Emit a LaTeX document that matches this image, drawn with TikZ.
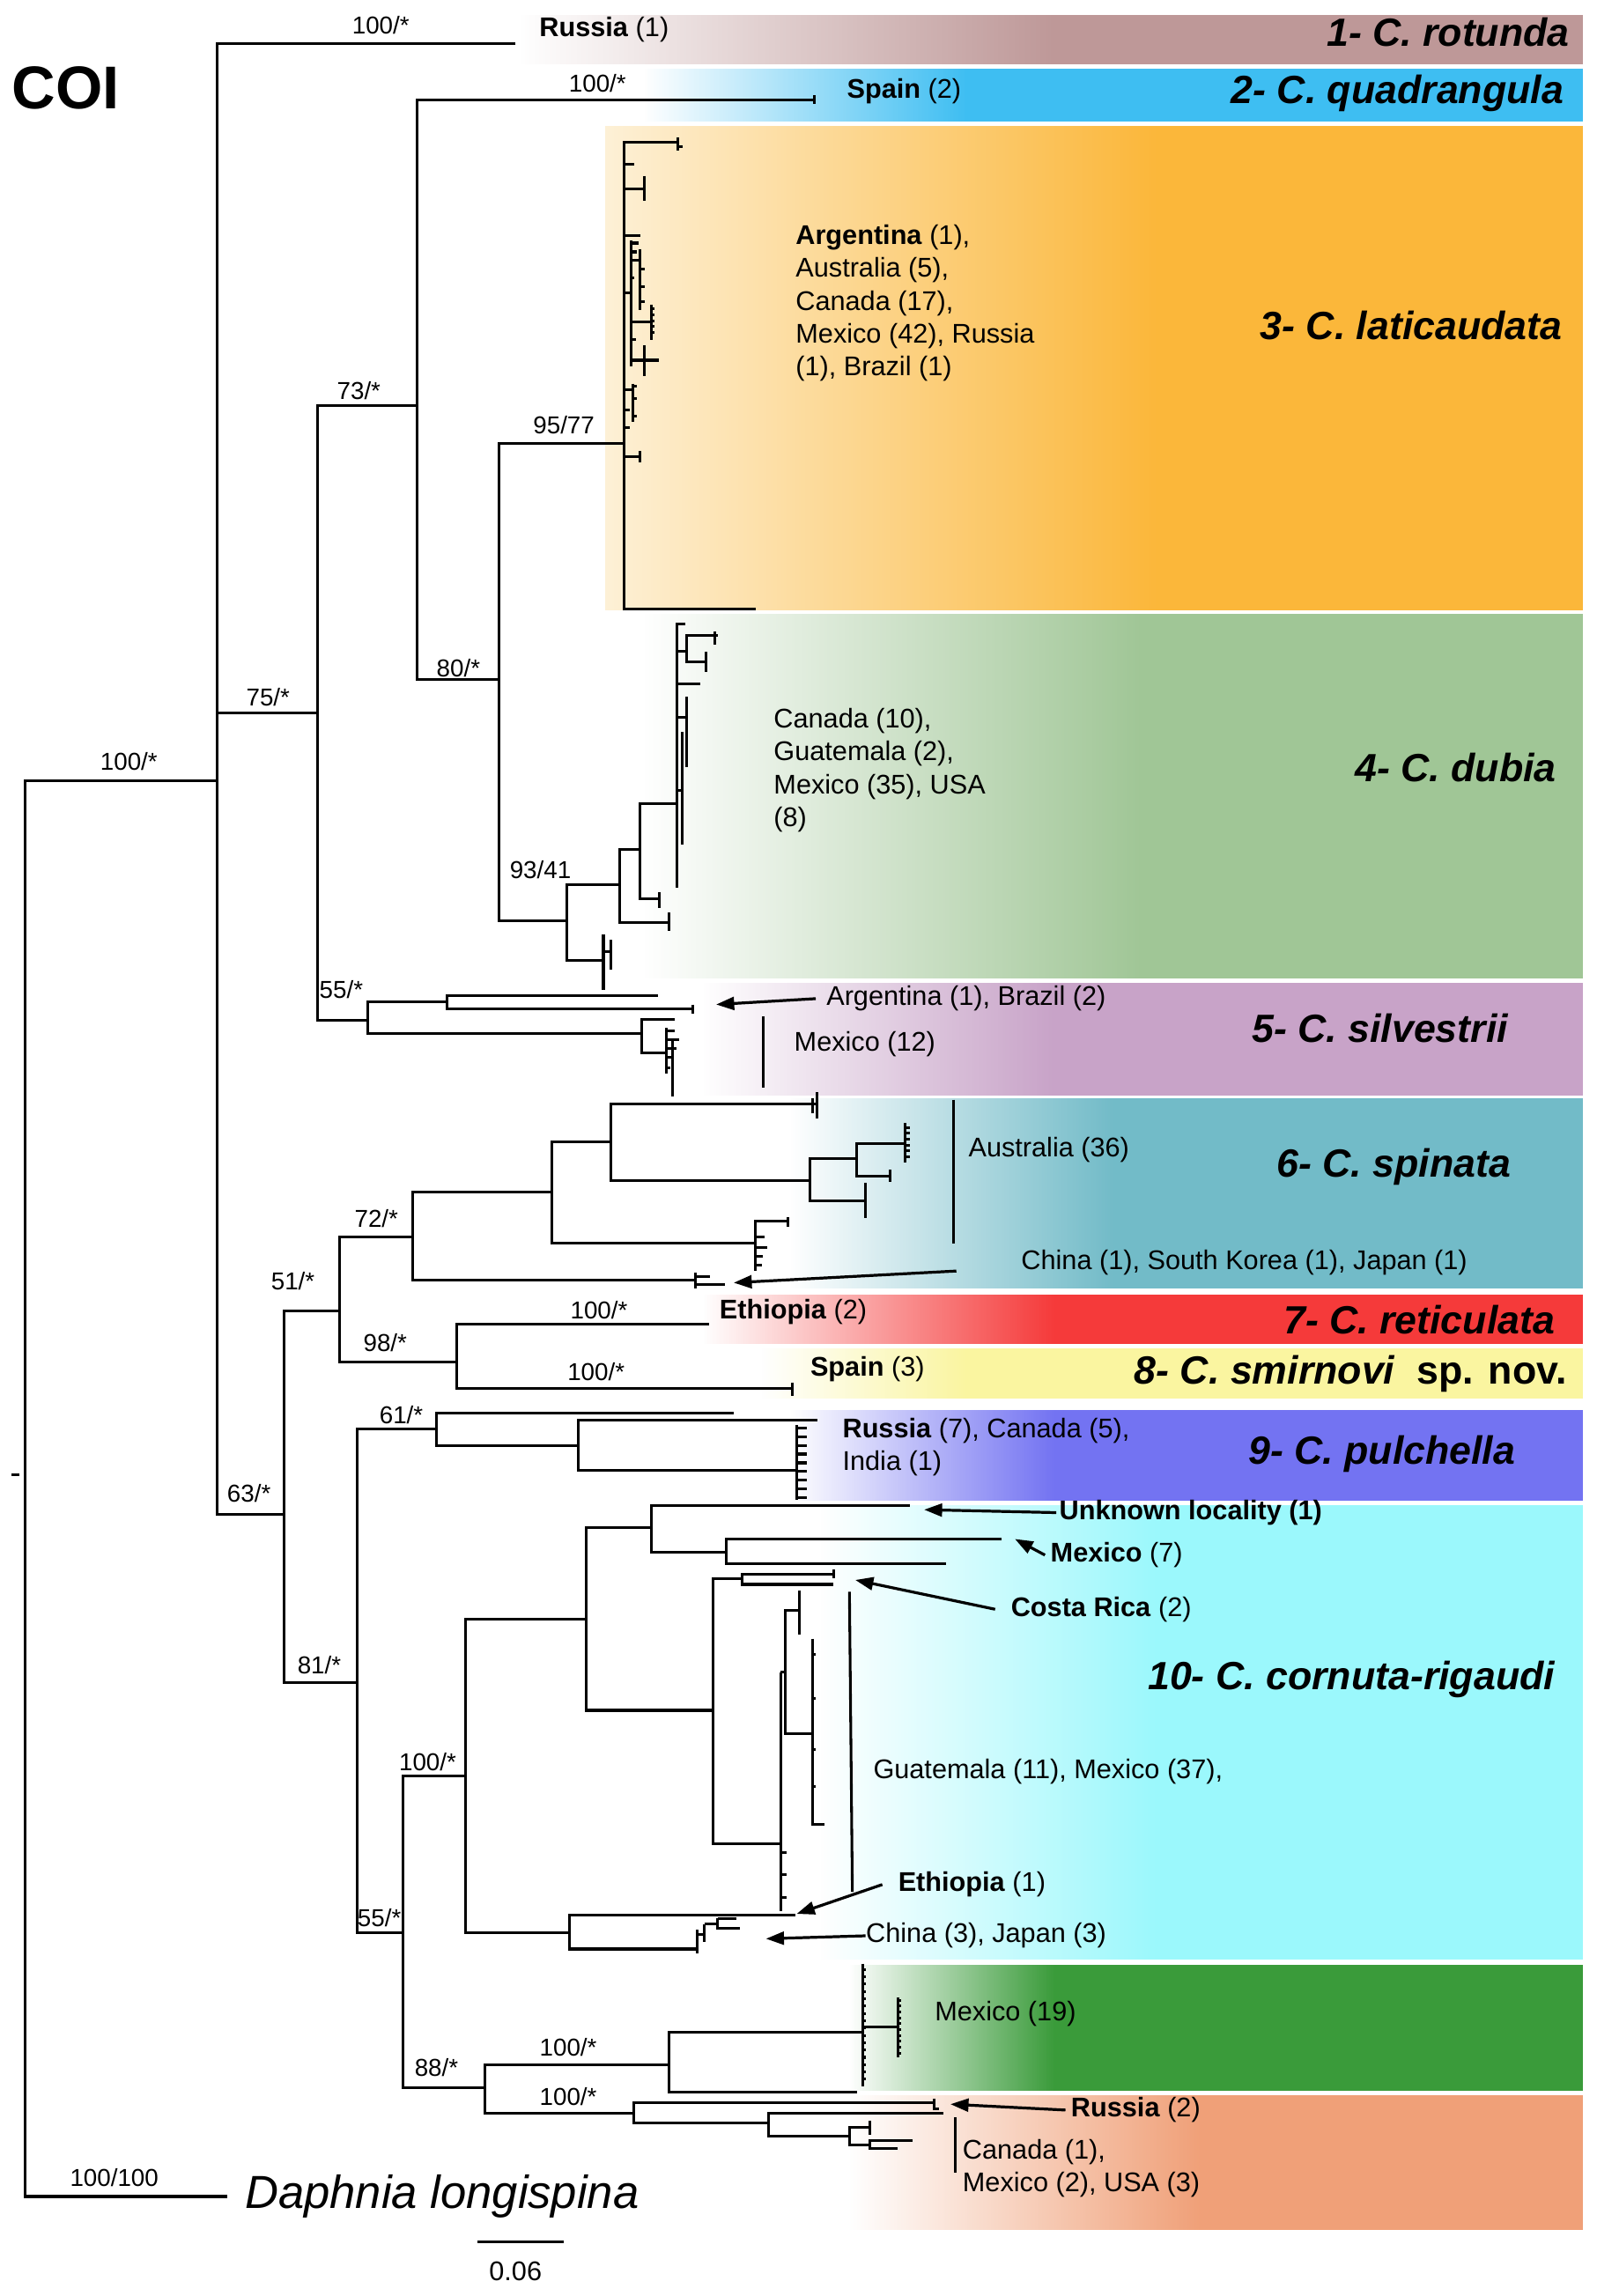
\documentclass[tikz,border=0pt]{standalone}
\usepackage{fontspec}
\setmainfont{Liberation Sans}
\usetikzlibrary{arrows.meta,positioning,fadings}
\definecolor{rotC}{RGB}{190,152,152}
\definecolor{quaC}{RGB}{62,190,242}
\definecolor{latC}{RGB}{251,183,58}
\definecolor{dubC}{RGB}{160,198,150}
\definecolor{silC}{RGB}{200,163,200}
\definecolor{spiC}{RGB}{114,187,200}
\definecolor{retC}{RGB}{245,58,58}
\definecolor{smiC}{RGB}{250,245,160}
\definecolor{pulC}{RGB}{115,115,242}
\definecolor{corC}{RGB}{155,248,252}
\definecolor{greC}{RGB}{58,155,58}
\definecolor{oraC}{RGB}{240,160,120}
\tikzfading[name=fadeband,left color=transparent!100,middle color=transparent!25,right color=transparent!0]
\begin{document}
\begin{tikzpicture}[x=0.02cm,y=-0.02cm,
 tree/.style={line width=1.05pt},
 arr/.style={-{Stealth[length=7pt,width=5pt,inset=0pt]},line width=1.1pt},
 bs/.style={font=\fontsize{9.5}{11}\selectfont,inner sep=0pt},
 loc/.style={font=\fontsize{10.5}{12.75}\selectfont,inner sep=0pt,anchor=west,align=left},
 spname/.style={font=\fontsize{15.3}{17}\selectfont\bfseries\itshape,inner sep=0pt,anchor=east}]
\useasboundingbox (0,0) rectangle (1090,1568);
\foreach \ya/\yb/\xa/\xb/\lc/\col in {10/44/355/720/white/rotC,47/83/440/660/white/quaC,
 86/417/413/790/latC!20/latC,419/668/440/780/white/dubC,671/748/480/720/white/silC,
 750/880/540/760/white/spiC,884/918/480/720/white/retC,921/955/520/660/white/smiC,
 963/1025/540/720/white/pulC,1028/1338/560/790/white/corC,1342/1428/580/720/white/greC,
 1431/1523/580/820/white/oraC}
 {\fill[\lc] (\xa,\ya) rectangle (\xb,\yb);
  \fill[\col,path fading=fadeband] (\xa,\ya) rectangle (\xb,\yb);
  \fill[\col] (\xb-0.5,\ya) rectangle (1081,\yb);}
\draw[tree] (155,1500) -| (17,533) -- (148,533);
\draw[tree] (8,1007) -- (13,1007);
\draw[tree] (352,30) -| (148,1034) -- (194,1034);
\draw[tree] (148,487) -- (217,487);
\draw[tree] (285,277) -| (217,697) -- (251,697);
\draw[tree] (556,68) -| (285,464) -- (341,464);
\draw[tree] (556,65) -- (556,71);
\draw[tree] (426,303) -| (341,629) -- (387,629);
\draw[tree] (463,97) -| (426,416) -- (516,416);
\draw[tree] (463,94) -- (463,103) (463,100) -- (466,100);
\foreach \y/\xe in {112/433,161/437,200/431,266/432,280/430,292/430,312/437}
 {\draw[tree] (426,\y) -- (\xe,\y);}
\draw[tree] (426,129) -- (440,129) (440,120) -- (440,137);
\draw[tree] (431,164) -- (431,250);
\foreach \y/\xe in {166/436,172/435,190/433,232/434} {\draw[tree] (431,\y) -- (\xe,\y);}
\draw[tree] (431,178) -- (437,178) (437,170) -- (437,212);
\foreach \y in {184,196,206} {\draw[tree] (437,\y) -- (440,\y);}
\draw[tree] (431,220) -- (445,220) (445,208) -- (445,232);
\foreach \y in {211,215,219,223,227} {\draw[tree] (445,\y) -- (447,\y);}
\draw[tree] (431,246) -- (450,246) (440,236) -- (440,257);
\draw[tree] (432,262) -- (432,288);
\foreach \y in {264,272,284} {\draw[tree] (432,\y) -- (435,\y);}
\draw[tree] (437,308) -- (437,316);
\draw[tree] (423,604) -| (387,656) -- (412,656);
\draw[tree] (412,638) -- (412,676) (412,650) -- (417,650) (417,642) -- (417,662);
\draw[tree] (437,580) -| (423,630) -- (457,630);
\draw[tree] (457,623) -- (457,636);
\draw[tree] (462,549) -| (437,614) -- (450,614);
\draw[tree] (450,609) -- (450,620);
\draw[tree] (468,426) -| (462,606);
\draw[tree] (490,434) -| (469,452) -- (482,452);
\draw[tree] (462,445) -- (469,445);
\draw[tree] (488,431) -- (488,440) (482,445) -- (482,459);
\draw[tree] (462,467) -- (478,467);
\draw[tree] (462,490) -- (469,490) (469,476) -- (469,524);
\draw[tree] (462,540) -- (466,540) (466,500) -- (466,577);
\draw[tree] (305,684) -| (251,706) -- (438,706);
\draw[tree] (449,680) -| (305,689) -- (473,689);
\draw[tree] (473,686) -- (473,692);
\draw[tree] (461,696) -| (438,719) -- (455,719);
\draw[tree] (455,702) -- (455,733) (459,709) -- (459,749);
\foreach \y/\xe in {704/461,710/464,716/462,722/459,729/458} {\draw[tree] (455,\y) -- (\xe,\y);}
\draw[tree] (521,694) -- (521,743);
\draw[tree] (282,845) -| (232,930) -- (312,930);
\draw[tree] (377,814) -| (282,874) -- (475,874);
\draw[tree] (475,869) -- (475,880) (475,872) -- (485,872) (475,877) -- (495,877);
\draw[tree] (417,780) -| (377,849) -- (516,849);
\draw[tree] (538,834) -| (516,868);
\draw[tree] (538,831) -- (538,838);
\foreach \y/\xe in {845/522,852/524,858/521,864/520} {\draw[tree] (516,\y) -- (\xe,\y);}
\draw[tree] (558,754) -| (417,806) -- (553,806);
\draw[tree] (558,746) -- (558,764) (555,750) -- (555,760);
\draw[tree] (585,791) -| (553,820) -- (591,820);
\draw[tree] (618,781) -| (585,803) -- (608,803);
\draw[tree] (618,767) -- (618,794) (608,799) -- (608,807) (591,808) -- (591,832);
\foreach \y in {770,774,778,782,786,790} {\draw[tree] (618,\y) -- (621,\y);}
\draw[tree] (651,751) -- (651,849);
\draw[tree] (484,904) -| (312,948) -- (541,948);
\draw[tree] (541,944) -- (541,953);
\draw[tree] (232,895) -| (194,1149) -- (244,1149);
\draw[tree] (298,976) -| (244,1320) -- (275,1320);
\draw[tree] (501,965) -| (298,987) -- (395,987);
\draw[tree] (558,970) -| (395,1004) -- (544,1004);
\draw[tree] (544,973) -- (544,1024);
\foreach \y in {975,981,987,993,999,1005,1011,1017,1023} {\draw[tree] (544,\y) -- (551,\y);}
\draw[tree] (318,1213) -| (275,1426) -- (331,1426);
\draw[tree] (400,1106) -| (318,1320) -- (389,1320);
\draw[tree] (543,1308) -| (389,1331) -- (476,1331);
\draw[tree] (476,1318) -- (476,1334) (476,1321) -- (481,1321) (481,1314) -- (481,1326)
 (481,1314) -- (490,1314) (490,1310) -- (490,1318) (490,1310) -- (503,1310) (490,1317) -- (505,1317);
\draw[tree] (445,1043) -| (400,1168) -- (487,1168);
\draw[tree] (621,1028) -| (445,1060) -- (496,1060);
\draw[tree] (684,1051) -| (496,1068) -- (646,1068);
\draw[tree] (507,1078) -| (487,1259) -- (533,1259);
\draw[tree] (569,1075) -| (507,1082) -- (569,1082);
\draw[tree] (569,1072) -- (569,1078);
\draw[tree] (533,1142) -- (533,1305) (533,1142) -- (536,1142);
\draw[tree] (546,1100) -| (536,1184) -- (555,1184);
\draw[tree] (546,1086) -- (546,1116);
\draw[tree] (555,1119) -- (555,1246) -- (563,1246);
\foreach \y in {1265,1280,1296} {\draw[tree] (533,\y) -- (537,\y);}
\foreach \y in {1130,1160,1195,1220} {\draw[tree] (555,\y) -- (557,\y);}
\draw[tree] (580,1087) -- (582,1292);
\draw[tree] (457,1410) -| (331,1443) -- (433,1443);
\draw[tree] (589,1388) -| (457,1429) -- (585,1429);
\draw[tree] (589,1341) -- (589,1425);
\draw[tree] (589,1384) -- (613,1384) (613,1364) -- (613,1405);
\foreach \y in {1345,1350,...,1420} {\draw[tree] (589,\y) -- (591,\y);}
\foreach \y in {1366,1370,...,1404} {\draw[tree] (613,\y) -- (615,\y);}
\draw[tree] (638,1436) -| (433,1450) -- (525,1450);
\draw[tree] (638,1433) -- (638,1440) -- (641,1440);
\draw[tree] (644,1443) -| (525,1459) -- (580,1459);
\draw[tree] (594,1453) -| (580,1465) -- (594,1465);
\draw[tree] (594,1448) -- (594,1458);
\draw[tree] (623,1462) -| (594,1467) -- (613,1467);
\draw[tree] (652,1446) -- (652,1484);
\draw[tree] (326,1531) -- (385,1531);
\foreach \x/\y/\t [count=\i] in {88/520/{100/*},260/17/{100/*},408/57/{100/*},245/267/{73/*},
 183/476/{75/*},313/456/{80/*},385/290/{95/77},369/594/{93/41},233/676/{55/*},257/832/{72/*},
 200/875/{51/*},263/917/{98/*},409/895/{100/*},407/937/{100/*},274/966/{61/*},170/1020/{63/*},
 218/1137/{81/*},292/1203/{100/*},259/1310/{55/*},298/1412/{88/*},388/1398/{100/*},
 388/1432/{100/*},78/1487/{100/100}}
 {\node[bs] (bs\i) at (\x,\y) {\t};}
\node[bs,font=\fontsize{10.5}{12}\selectfont] (scl) at (352,1551) {0.06};
\node[font=\fontsize{23.5}{26}\selectfont\bfseries] (coi) at (45,60) {COI};
\node[font=\fontsize{18}{20}\selectfont\itshape,inner sep=0pt,anchor=west] (daph) at (167,1500) {Daphnia longispina};
\node[spname] (sp1) at (1072,22) {1- C. rotunda};
\node[spname] (sp2) at (1068,64) {2- C. quadrangula};
\node[spname] (sp3) at (1067,222) {3- C. laticaudata};
\node[spname] (sp4) at (1063,524) {4- C. dubia};
\node[spname] (sp5) at (1030,702) {5- C. silvestrii};
\node[spname] (sp6) at (1032,797) {6- C. spinata};
\node[spname] (sp7) at (1062,901) {7- C. reticulata};
\node[spname] (sp8) at (1070,938) {8- C. smirnovi\hspace{0.55em}\textup{sp. nov.}};
\node[spname] (sp9) at (1035,993) {9- C. pulchella};
\node[spname] (sp10) at (1062,1147) {10- C. cornuta-rigaudi};
\node[loc] (lRu1) at (368,20) {\textbf{Russia} (1)};
\node[loc] (lSp2) at (578,62) {\textbf{Spain} (2)};
\node[loc] (lLat) at (543,207) {\textbf{Argentina} (1),\\Australia (5),\\Canada (17),\\Mexico (42), Russia\\(1), Brazil (1)};
\node[loc] (lDub) at (528,526) {Canada (10),\\Guatemala (2),\\Mexico (35), USA\\(8)};
\node[loc] (lArg) at (564,682) {Argentina (1), Brazil (2)};
\node[loc] (lMx12) at (542,713) {Mexico (12)};
\node[loc] (lAus) at (661,785) {Australia (36)};
\node[loc] (lCh1) at (697,862) {China (1), South Korea (1), Japan (1)};
\node[loc] (lEt2) at (491,896) {\textbf{Ethiopia} (2)};
\node[loc] (lSp3) at (553,935) {\textbf{Spain} (3)};
\node[loc] (lPul) at (575,988) {\textbf{Russia} (7), Canada (5),\\India (1)};
\node[loc] (lUnk) at (723,1033) {\textbf{Unknown locality (1)}};
\node[loc] (lMx7) at (717,1062) {\textbf{Mexico} (7)};
\node[loc] (lCR) at (690,1099) {\textbf{Costa Rica} (2)};
\node[loc] (lGua) at (596,1210) {Guatemala (11), Mexico (37),};
\node[loc] (lEt1) at (613,1287) {\textbf{Ethiopia} (1)};
\node[loc] (lCh3) at (591,1322) {China (3), Japan (3)};
\node[loc] (lMx19) at (638,1375) {Mexico (19)};
\node[loc] (lRu2) at (731,1441) {\textbf{Russia} (2)};
\node[loc] (lCan) at (657,1481) {Canada (1),\\Mexico (2), USA (3)};
\coordinate (tArg) at (489,686);
\coordinate (sCh1) at (653,868);
\coordinate (tCh1) at (501,876);
\coordinate (tUnk) at (631,1031);
\coordinate (tMx7) at (693,1051);
\coordinate (tCR) at (584,1079);
\coordinate (tEt1) at (544,1307);
\coordinate (tCh3) at (523,1324);
\coordinate (tRu2) at (649,1437);
\draw[arr] ([xshift=-4pt]lArg.west) -- (tArg);
\draw[arr] (sCh1) -- (tCh1);
\draw[arr] ([xshift=-1pt]lUnk.west) -- (tUnk);
\draw[arr] ([xshift=-2pt]lMx7.west) -- (tMx7);
\draw[arr] ([xshift=-6pt]lCR.west) -- (tCR);
\draw[arr] ([xshift=-6pt]lEt1.west) -- (tEt1);
\draw[arr] (lCh3.west) -- (tCh3);
\draw[arr] ([xshift=-2pt]lRu2.west) -- (tRu2);
\end{tikzpicture}
\end{document}
